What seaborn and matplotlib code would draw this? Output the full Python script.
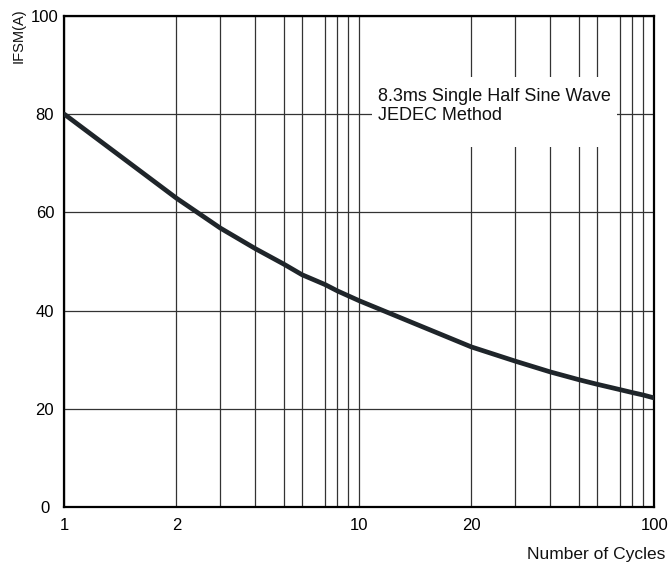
import numpy as np
import matplotlib
matplotlib.use("Agg")
import matplotlib.pyplot as plt
from matplotlib.patches import Rectangle
from matplotlib.ticker import NullLocator
import seaborn as sns

# ---- data ----
cycles = [1, 2, 3, 4, 5, 6, 7, 8, 9, 10, 20, 30, 40, 50, 60, 70, 80, 90, 100]
ifsm = [80.0, 62.9, 56.8, 52.6, 49.4, 47.3, 45.3, 44.0, 43.0, 42.0,
        32.6, 29.7, 27.5, 25.9, 25.0, 23.9, 23.3, 22.8, 22.2]
x_grid = [1, 2, 3, 4, 5, 6, 7, 8, 9, 10, 20, 30, 40, 50, 60, 70, 80, 90, 100]
x_labelled = {1: "1", 2: "2", 10: "10", 20: "20", 100: "100"}
y_ticks = [0, 20, 40, 60, 80, 100]
note_text = "8.3ms Single Half Sine Wave\nJEDEC Method"
x_title = "Number of Cycles"
y_title = "IFSM(A)"

sns.set_theme(style="white")
plt.rcParams["font.family"] = ["Liberation Sans", "DejaVu Sans"]

# The datasheet's hand-drawn log paper: where each mantissa 1..10 sits
# within a decade (measured from the reference's printed grid).
MANT = np.arange(1, 11, dtype=float)
LOGM = np.log10(MANT)
DECADE_POS = np.array([0.0, 0.380, 0.529, 0.648, 0.746, 0.806, 0.884, 0.926, 0.963, 1.0])


def fwd(x):
    x = np.asarray(x, dtype=float)
    t = np.log10(np.clip(x, 1e-12, None))
    d = np.floor(t + 1e-12)
    f = np.clip(t - d, 0, 1)
    return d + np.interp(f, LOGM, DECADE_POS)


def inv(u):
    u = np.asarray(u, dtype=float)
    d = np.floor(u + 1e-12)
    f = np.clip(u - d, 0, 1)
    return 10 ** (d + np.interp(f, DECADE_POS, LOGM))


fig = plt.figure(figsize=(6.68, 5.67), dpi=100)
ax = fig.add_axes([0.0963, 0.1058, 0.8832, 0.8660])
ax.set_xscale("function", functions=(fwd, inv))

sns.lineplot(x=cycles, y=ifsm, ax=ax, color="#1f252a", linewidth=3.4, zorder=5)

ax.set_xlim(1, 100)
ax.set_ylim(0, 100)
ax.set_xticks(x_grid)
ax.set_xticklabels([x_labelled.get(v, "") for v in x_grid])
ax.xaxis.set_minor_locator(NullLocator())
ax.set_yticks(y_ticks)
ax.set_yticklabels([str(v) for v in y_ticks])
ax.set_xlabel("")
ax.set_ylabel("")

ax.set_axisbelow(True)
ax.grid(True, which="major", axis="both", color="#333333", linewidth=0.9)

for s in ax.spines.values():
    s.set_visible(True)
    s.set_color("black")
    s.set_linewidth(1.6)

ax.tick_params(axis="x", length=0, pad=8, labelsize=12, colors="black")
ax.tick_params(axis="y", length=0, pad=14, labelsize=12, colors="black")
for lab in ax.get_yticklabels():
    lab.set_horizontalalignment("center")

# white box behind the note
ax.add_patch(Rectangle((0.5215, 0.7332), 0.4153, 0.1426, transform=ax.transAxes,
                       facecolor="white", edgecolor="none", zorder=2))
ax.text(0.5317, 0.817, note_text, transform=ax.transAxes, ha="left", va="center",
        fontsize=13, color="#111111", linespacing=1.2, zorder=3)

fig.text(19 / 668, 1 - 36 / 567, y_title, rotation=90, ha="center", va="center",
         fontsize=10.5, color="#111111")
fig.text(665 / 668, 1 - 555 / 567, x_title, ha="right", va="center",
         fontsize=12.5, color="#111111")

fig.savefig("out.png", dpi=100, facecolor="white")
